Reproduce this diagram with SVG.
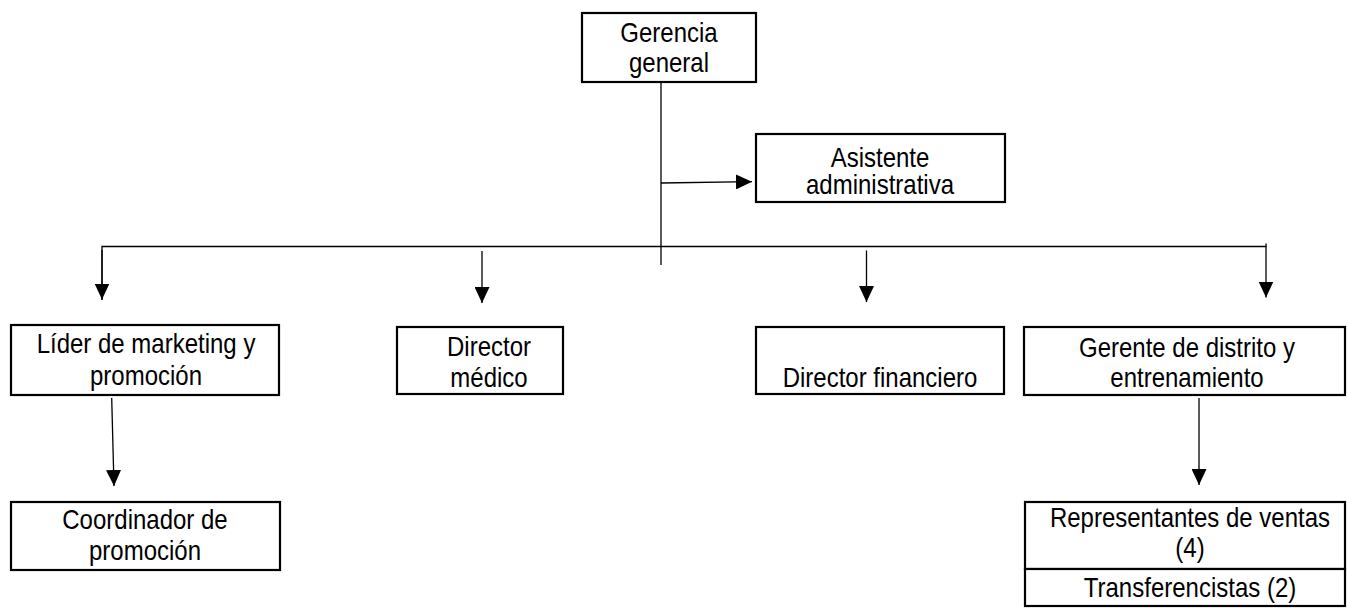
<svg xmlns="http://www.w3.org/2000/svg" width="1348" height="608" viewBox="0 0 1348 608">
<defs>
<marker id="ah" viewBox="0 0 16 15" refX="16" refY="7.5" markerWidth="16" markerHeight="15" markerUnits="userSpaceOnUse" orient="auto">
<path d="M0,0 L16,7.5 L0,15 z" fill="#000"/>
</marker>
<style>
.box{fill:#fff;stroke:#000;stroke-width:2.2}
.ln{fill:none;stroke:#000;stroke-width:1.3}
.ar{fill:none;stroke:#000;stroke-width:1.3;marker-end:url(#ah)}
text{font-family:"Liberation Sans",Arial,sans-serif;font-size:24px;fill:#000;text-anchor:middle}
</style>
</defs>
<rect width="1348" height="608" fill="#fff"/>
<g id="connectors">
<line class="ln" x1="661" y1="83" x2="661" y2="265"/>
<line class="ar" x1="661" y1="183" x2="752" y2="181.7"/>
<polyline class="ln" points="102,300 102,246.5 1266,246.5"/>
<line class="ln" x1="1266" y1="243.5" x2="1266" y2="247"/>
<line class="ar" x1="102" y1="250" x2="102" y2="299.5"/>
<line class="ar" x1="482" y1="251" x2="482" y2="303"/>
<line class="ar" x1="866.5" y1="250.5" x2="866.5" y2="302"/>
<line class="ar" x1="1266" y1="246" x2="1266" y2="297.5"/>
<line class="ar" x1="111.7" y1="398" x2="114" y2="486"/>
<line class="ar" x1="1199" y1="398" x2="1199" y2="485"/>
</g>
<g id="gerencia">
<rect class="box" x="582" y="13" width="174" height="69"/>
<text transform="translate(669,41.7) scale(1,1.15)">Gerencia</text>
<text transform="translate(669,71.7) scale(1,1.15)">general</text>
</g>
<g id="asistente">
<rect class="box" x="756" y="134" width="249" height="68"/>
<text transform="translate(880,166.7) scale(1,1.15)">Asistente</text>
<text transform="translate(880,194.3) scale(1,1.15)">administrativa</text>
</g>
<g id="lider">
<rect class="box" x="11" y="325" width="268" height="70"/>
<text transform="translate(146,353) scale(1,1.15)">Líder de marketing y</text>
<text transform="translate(146,385) scale(1,1.15)">promoción</text>
</g>
<g id="director-medico">
<rect class="box" x="397" y="327" width="166" height="67"/>
<text transform="translate(489,356) scale(1,1.15)">Director</text>
<text transform="translate(489,387) scale(1,1.15)">médico</text>
</g>
<g id="director-financiero">
<rect class="box" x="756" y="327" width="248" height="67"/>
<text transform="translate(880,387) scale(1,1.15)">Director financiero</text>
</g>
<g id="gerente-distrito">
<rect class="box" x="1024" y="327" width="321" height="68"/>
<text transform="translate(1187,356.7) scale(1,1.15)">Gerente de distrito y</text>
<text transform="translate(1187,386.7) scale(1,1.15)">entrenamiento</text>
</g>
<g id="coordinador">
<rect class="box" x="11" y="502" width="269" height="68"/>
<text transform="translate(145,529) scale(1,1.15)">Coordinador de</text>
<text transform="translate(145,560) scale(1,1.15)">promoción</text>
</g>
<g id="representantes">
<rect class="box" x="1025" y="502" width="320" height="67"/>
<text transform="translate(1190,527) scale(1,1.15)">Representantes de ventas</text>
<text transform="translate(1190,557) scale(1,1.15)">(4)</text>
</g>
<g id="transferencistas">
<rect class="box" x="1025" y="569" width="320" height="37"/>
<text transform="translate(1190,597) scale(1,1.15)">Transferencistas (2)</text>
</g>
</svg>
